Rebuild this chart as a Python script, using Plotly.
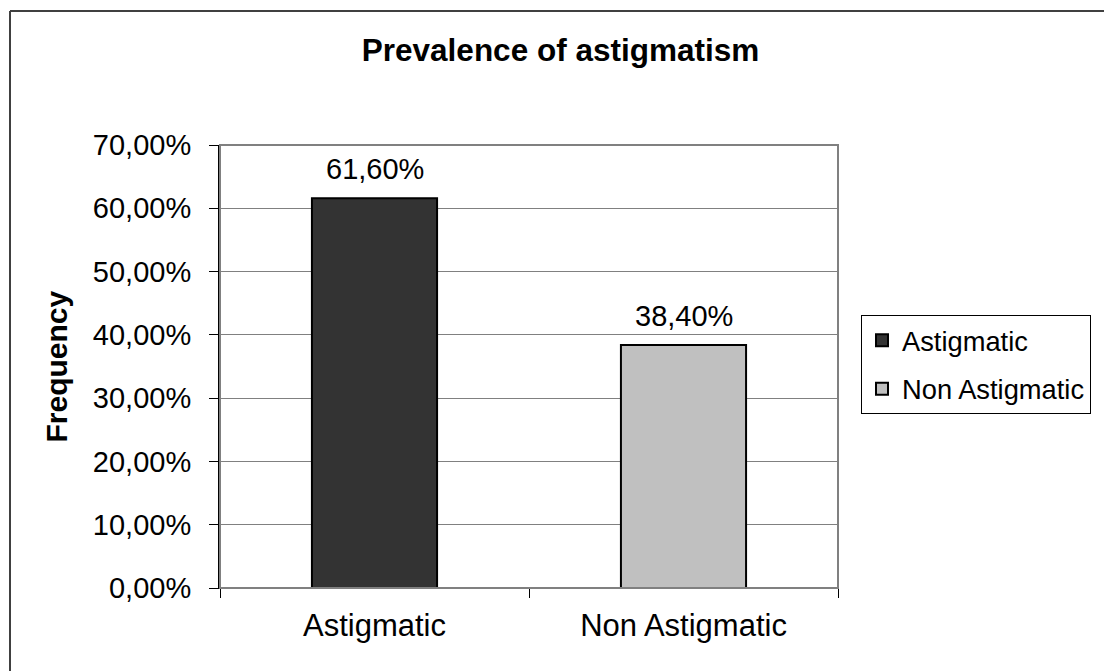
import plotly.graph_objects as go

categories = ["Astigmatic", "Non Astigmatic"]
values = [0.616, 0.384]
bar_colors = ["#333333", "#C0C0C0"]
label_texts = ["61,60%", "38,40%"]
tick_vals = [0, 0.1, 0.2, 0.3, 0.4, 0.5, 0.6, 0.7]

W, H = 1104, 671
L, R, T, B = 220, 838, 145, 588

def px(x):
    return (x - L) / (R - L)

def py(y):
    return (B - y) / (B - T)

FONT = "Liberation Sans, Arial, sans-serif"

fig = go.Figure()
for cat, val, col in zip(categories, values, bar_colors):
    fig.add_trace(go.Bar(
        x=[cat], y=[val], name=cat, legendgroup=cat,
        marker=dict(color=col, line=dict(color="#000000", width=2)),
        width=0.405, offset=-0.2025,
    ))

for cat, val, txt in zip(categories, values, label_texts):
    fig.add_annotation(x=cat, y=val, text=txt, showarrow=False,
                       xref="x", yref="y", yanchor="bottom", yshift=11,
                       font=dict(family=FONT, size=29, color="#000"))

fig.add_annotation(text="<b>Frequency</b>", textangle=-90, showarrow=False,
                   xref="paper", yref="paper", x=px(56), y=0.5,
                   xanchor="center", yanchor="middle",
                   font=dict(family=FONT, size=30, color="#000"))

shapes = [
    dict(type="rect", xref="paper", yref="paper", x0=0, x1=1, y0=0, y1=1,
         line=dict(color="#808080", width=2), layer="above"),
    dict(type="line", xref="paper", yref="paper", x0=px(10), x1=px(1130), y0=py(11), y1=py(11),
         line=dict(color="#404040", width=2)),
    dict(type="line", xref="paper", yref="paper", x0=px(10), x1=px(10), y0=py(11), y1=py(700),
         line=dict(color="#404040", width=2)),
]

fig.update_layout(
    width=W, height=H,
    margin=dict(l=L, r=W - R, t=T, b=H - B),
    paper_bgcolor="white", plot_bgcolor="white",
    separators=",.",
    shapes=shapes,
    title=dict(text="<b>Prevalence of astigmatism</b>", xref="container", yref="container",
               x=560.5 / W, y=1 - 50 / H, xanchor="center", yanchor="middle",
               font=dict(family=FONT, size=31.5, color="#000")),
    font=dict(family=FONT, size=27, color="#000"),
    xaxis=dict(type="category", tickson="boundaries", ticks="outside", ticklen=9,
               tickcolor="#000", showgrid=False, showline=True, linecolor="#000", linewidth=1,
               tickfont=dict(family=FONT, size=31, color="#000"), ticklabelstandoff=10),
    yaxis=dict(range=[0, 0.7], tickvals=tick_vals, tickformat=".2%", ticks="outside",
               ticklen=9, tickcolor="#000", showgrid=True, gridcolor="#808080", gridwidth=1,
               showline=True, linecolor="#000", linewidth=2, zeroline=False,
               tickfont=dict(family=FONT, size=29, color="#000"), ticklabelstandoff=12),
    legend=dict(x=px(861), y=py(364.5), xanchor="left", yanchor="middle",
                bordercolor="#000", borderwidth=1, bgcolor="white",
                font=dict(family=FONT, size=27.3, color="#000"), tracegroupgap=10),
    showlegend=True,
)

fig.write_html(
    "out.html",
    config={"displayModeBar": False},
    post_script=(
        "document.body.style.margin='0';"
        "document.body.style.overflow='hidden';"
        "document.documentElement.style.overflow='hidden';"
    ),
)
